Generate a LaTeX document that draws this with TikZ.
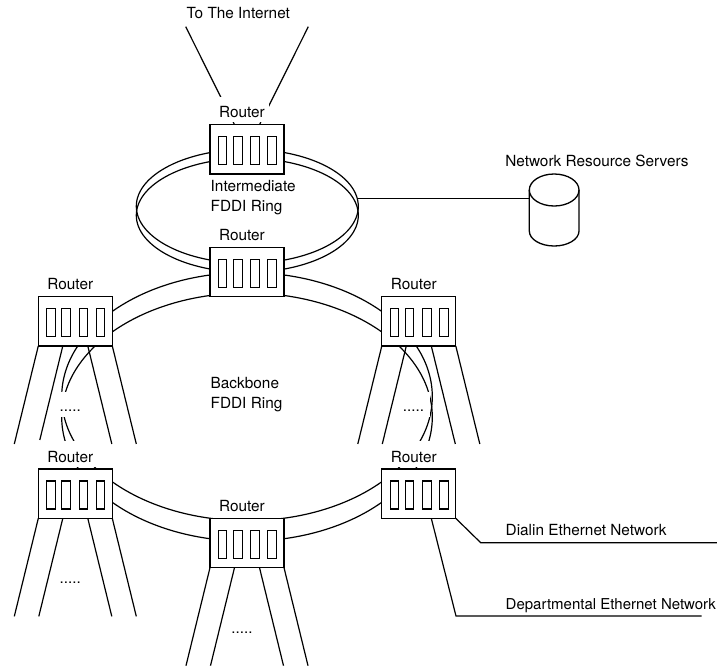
\documentclass[tikz,border=0pt]{standalone}
\usepackage{fontspec}
\setmainfont{TeX Gyre Heros}
\usetikzlibrary{calc,backgrounds}
\tikzset{
  x=1pt,y=-1pt,
  wire/.style={line width=1.2pt,black},
  routerbox/.style={draw,line width=1.3pt,fill=white,inner sep=0pt,outer sep=0pt,minimum width=74pt,minimum height=49.3pt},
  slotbox/.style={draw,line width=1.1pt,inner sep=0pt,outer sep=0pt,minimum width=8.6pt,minimum height=28pt},
  txt/.style={inner sep=0pt,outer sep=0pt,font=\fontsize{15.35}{20}\selectfont,anchor=base west},
  routerlabel/.style={fill=white,inner sep=0pt,outer sep=0pt,minimum width=54pt,text height=21pt,text depth=4.5pt,anchor=north,font=\fontsize{15.35}{20}\selectfont},
  dots/.style={fill=white,inner sep=0pt,outer sep=0pt,minimum width=32pt,text height=20pt,text depth=5pt,anchor=base,font=\fontsize{15.2}{20}\selectfont},
}
\newcommand{\router}[3]{%
  \node[routerbox] (#1) at (#2,#3) {};
  \foreach \dx [count=\i] in {-24.4,-9.2,8.2,25.2}
    \node[slotbox] (#1s\i) at ($(#1.center)+(\dx,1.3)$) {};
  \node[routerlabel] (#1l) at ($(#1.north)+(-5,-28)$) {Router};
}
\newcommand{\leg}[3]{% box, offset along south edge, direction
  \draw[wire] ($(#1.south west)+(#2,0)$) -- ++(#3,98);
}
\begin{document}
\begin{tikzpicture}
\useasboundingbox (0,0) rectangle (717,665);
% routers
\router{ra}{247}{149.3}
\router{rb}{247}{272}
\router{rc}{75.3}{321.3}
\router{rd}{418.8}{321.3}
\router{re}{75.3}{493.7}
\router{rf}{247}{543}
\router{rg}{418.8}{493.7}
% dotted marks
\node[dots] (dc) at (70.3,411.5) {.....};
\node[dots] (dd) at (413.5,411.5) {.....};
\node[dots] (de) at (70.3,583.5) {.....};
\node[dots] (df) at (242,633.5) {.....};
% texts
\node[txt] (tnet) at (186.7,18.3) {To The Internet};
\node[txt] (tsrv) at (505.3,166) {Network Resource Servers};
\node[txt] (ti1) at (210.7,191) {Intermediate};
\node[txt] (ti2) at (210.7,211) {FDDI Ring};
\node[txt] (tb1) at (210.7,388) {Backbone};
\node[txt] (tb2) at (210.7,408) {FDDI Ring};
\node[txt] (tdial) at (505.7,535) {Dialin Ethernet Network};
\node[txt,font=\fontsize{15}{20}\selectfont] (tdept) at (505.7,609) {Departmental Ethernet Network};
% free ends
\coordinate (inl) at (185.7,26.7);
\coordinate (inr) at (308.3,26.7);
\coordinate (ringr) at (358.2,198.5);
\coordinate (srv) at (529.3,198.5);
\coordinate (dialc) at (480.7,542.7);
\coordinate (diale) at (717,542.7);
\coordinate (depc) at (456,616);
\coordinate (depe) at (701.7,616);
\begin{scope}[on background layer]
  % rings
  \draw[wire] (247.3,206.3) ellipse [x radius=111,y radius=57];
  \draw[wire] (247.3,215.3) ellipse [x radius=111,y radius=57];
  \draw[wire] (247,396.6) ellipse [x radius=185.3,y radius=124.1];
  \draw[wire] (247,417.1) ellipse [x radius=185.3,y radius=124.1];
  % internet
  \draw[wire] ($(ra.north west)+(24.5,0)$) -- (inl);
  \draw[wire] ($(ra.north west)+(49.5,0)$) -- (inr);
  % servers
  \draw[wire] (ringr) -- (srv);
  % legs
  \leg{rc}{0}{-24}
  \draw[wire] ($(rc.south west)+(24.5,0)$) -- ++(-23,94);
  \leg{rc}{49.5}{24}
  \leg{rc}{74}{24}
  \leg{rd}{0}{-24}
  \leg{rd}{24.5}{-24}
  \leg{rd}{49.5}{24}
  \leg{rd}{74}{24}
  \leg{re}{0}{-24}
  \leg{re}{24.5}{-24}
  \leg{re}{49.5}{24}
  \leg{re}{74}{24}
  \leg{rf}{0}{-24}
  \leg{rf}{24.5}{-24}
  \leg{rf}{49.5}{24}
  \leg{rf}{74}{24}
  % ethernet networks
  \draw[wire] (rg.south east) -- (dialc) -- (diale);
  \draw[wire] ($(rg.south west)+(49.5,0)$) -- (depc) -- (depe);
\end{scope}
% cylinder
\draw[wire,line width=1.3pt] (554.15,190) ellipse [x radius=24.85,y radius=16];
\draw[wire,line width=1.3pt] (529.3,190) -- (529.3,231) arc [start angle=180,end angle=360,x radius=24.85,y radius=-15] -- (579,190);
\end{tikzpicture}
\end{document}
